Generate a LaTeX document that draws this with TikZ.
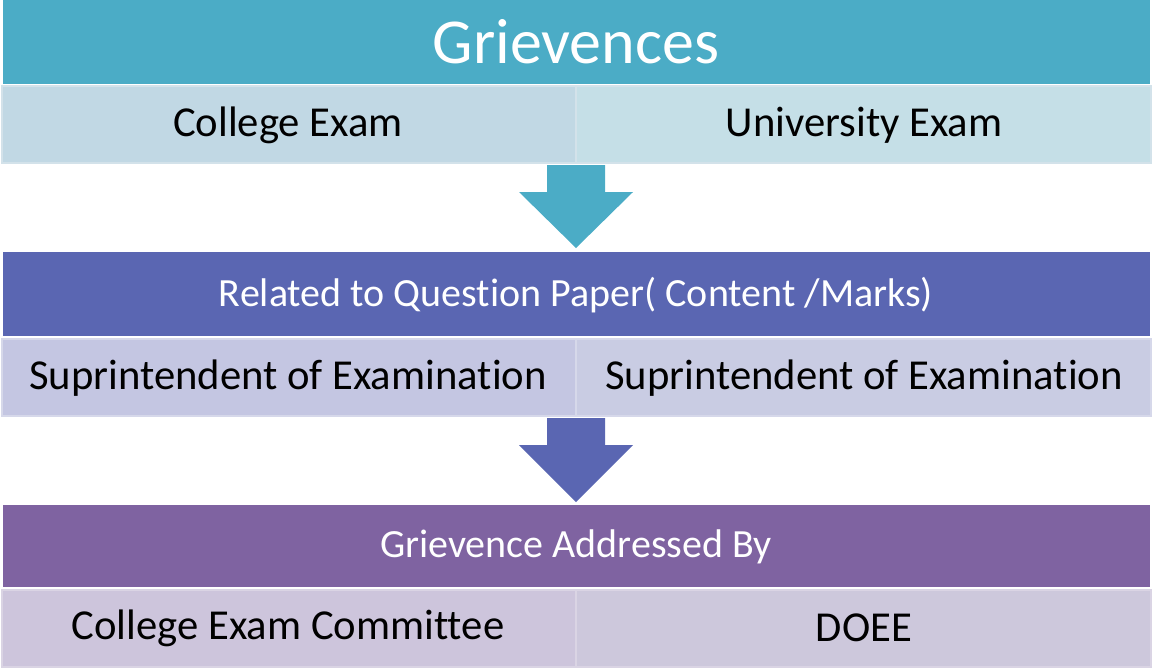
\documentclass[tikz,border=0pt]{standalone}
\usepackage{fontspec}
\setmainfont[Ligatures={NoCommon}]{Carlito}
\definecolor{teal1}{HTML}{4BACC6}
\definecolor{blue1}{HTML}{5A66B2}
\definecolor{purp1}{HTML}{7F63A1}
\definecolor{tealL}{HTML}{C1D8E4}
\definecolor{tealR}{HTML}{C5DFE7}
\definecolor{tealB}{HTML}{D3E2EA}
\definecolor{blueL}{HTML}{C4C6E2}
\definecolor{blueR}{HTML}{C9CCE3}
\definecolor{blueB}{HTML}{D6D8EA}
\definecolor{purpL}{HTML}{CDC5DC}
\definecolor{purpR}{HTML}{CDC8DC}
\definecolor{purpB}{HTML}{DAD4E4}
\tikzset{
  head/.style={inner sep=0pt, text=white},
  sub/.style={inner sep=0pt, text=black, font=\fontsize{32pt}{36pt}\selectfont},
  cell/.style={line width=2.2pt},
}
\begin{document}
\begin{tikzpicture}[x=0.75pt,y=-0.75pt]
\useasboundingbox (0,0) rectangle (1153,669);
% row 1
\fill[teal1] (3,0) rectangle (1150,84);
\filldraw[cell,fill=tealL,draw=tealB] (2,86) rectangle (576,163);
\filldraw[cell,fill=tealR,draw=tealB] (576,86) rectangle (1151,163);
\node[head,font=\fontsize{48pt}{52pt}\selectfont] (t1) at (576,42) {Grievences};
\node[sub] (c1) at (288,125) {College Exam};
\node[sub] (u1) at (864,125) {University Exam};
% arrow 1
\fill[teal1] (547,165) -- (605,165) -- (605,192) -- (633,192) -- (576,248) -- (519,192) -- (547,192) -- cycle;
% row 2
\fill[blue1] (3,252) rectangle (1150,336);
\filldraw[cell,fill=blueL,draw=blueB] (2,339) rectangle (576,416);
\filldraw[cell,fill=blueR,draw=blueB] (576,339) rectangle (1151,416);
\node[head,font=\fontsize{30pt}{34pt}\selectfont] (t2) at (576,295) {Related to Question Paper( Content /Marks)};
\node[sub] (s1) at (288,378) {Suprintendent of Examination};
\node[sub] (s2) at (864,378) {Suprintendent of Examination};
% arrow 2
\fill[blue1] (547,418) -- (605,418) -- (605,445) -- (633,445) -- (576,502) -- (519,445) -- (547,445) -- cycle;
% row 3
\fill[purp1] (3,505) rectangle (1150,587);
\filldraw[cell,fill=purpL,draw=purpB] (2,590) rectangle (576,667);
\filldraw[cell,fill=purpR,draw=purpB] (576,590) rectangle (1151,667);
\node[head,font=\fontsize{30pt}{34pt}\selectfont] (t3) at (576,547) {Grievence Addressed By};
\node[sub] (g1) at (288,628) {College Exam Committee};
\node[sub] (g2) at (864,628) {DOEE};
\end{tikzpicture}
\end{document}
